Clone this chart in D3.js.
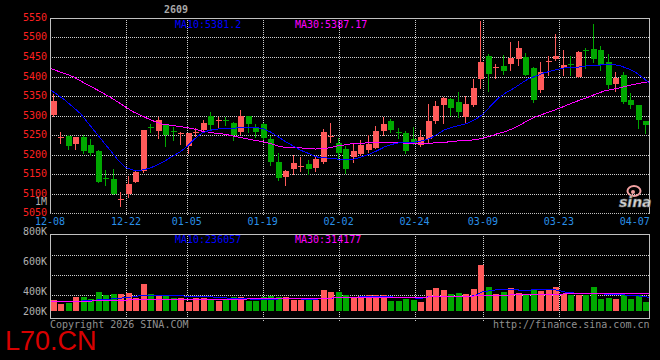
<!DOCTYPE html>
<html><head><meta charset="utf-8">
<script src="https://cdn.jsdelivr.net/npm/d3@7/dist/d3.min.js"></script>
<style>
html,body{margin:0;padding:0;background:#000;}
svg{display:block;}
text{font-family:"DejaVu Sans Mono",monospace;font-size:10px;}
</style></head><body>
<svg id="c" width="660" height="360"></svg>
<script>
const dates=["12-08","12-09","12-10","12-11","12-12","12-15","12-16","12-17","12-18","12-19","12-22","12-23","12-24","12-25","12-26","12-29","12-30","12-31","01-05","01-06","01-07","01-08","01-09","01-12","01-13","01-14","01-15","01-16","01-19","01-20","01-21","01-22","01-23","01-26","01-27","01-28","01-29","01-30","02-02","02-03","02-04","02-05","02-06","02-09","02-10","02-11","02-12","02-13","02-24","02-25","02-26","02-27","03-02","03-03","03-04","03-05","03-06","03-09","03-10","03-11","03-12","03-13","03-16","03-17","03-18","03-19","03-20","03-23","03-24","03-25","03-26","03-27","03-30","03-31","04-01","04-02","04-03","04-07","04-08","04-09"];
const openP=[5301,5244,5248,5228,5245,5224,5209,5140,5137,5085,5098,5130,5158,5270,5259,5276,5260,5252,5223,5255,5263,5299,5286,5288,5282,5257,5299,5267,5278,5239,5181,5143,5163,5169,5176,5165,5182,5245,5230,5214,5194,5202,5212,5217,5260,5286,5258,5254,5240,5224,5241,5286,5327,5342,5334,5297,5327,5394,5453,5421,5427,5432,5445,5451,5421,5365,5438,5444,5421,5432,5400,5469,5470,5468,5438,5382,5405,5340,5327,5286];
const highP=[5354,5257,5249,5245,5250,5240,5212,5160,5164,5103,5144,5159,5263,5278,5296,5277,5270,5257,5256,5267,5288,5309,5297,5297,5283,5314,5300,5278,5280,5248,5204,5160,5199,5193,5185,5195,5265,5282,5242,5222,5226,5237,5250,5273,5297,5291,5267,5260,5270,5263,5330,5337,5347,5344,5359,5350,5394,5543,5458,5432,5455,5489,5492,5461,5425,5436,5453,5509,5468,5453,5465,5474,5535,5477,5457,5411,5411,5357,5327,5286];
const lowP=[5300,5230,5213,5213,5205,5199,5130,5122,5099,5069,5092,5130,5154,5257,5243,5223,5237,5228,5203,5248,5258,5263,5271,5276,5236,5252,5257,5245,5240,5173,5135,5122,5149,5158,5149,5158,5177,5233,5192,5153,5182,5199,5207,5216,5250,5257,5243,5205,5228,5222,5229,5282,5282,5301,5297,5283,5325,5370,5363,5395,5406,5417,5430,5403,5334,5361,5404,5442,5404,5404,5400,5421,5438,5417,5370,5363,5333,5320,5267,5256];
const closeP=[5337,5246,5223,5245,5208,5205,5130,5138,5099,5087,5124,5156,5263,5268,5288,5250,5258,5254,5255,5257,5282,5276,5288,5286,5250,5299,5278,5257,5243,5182,5141,5158,5178,5171,5164,5188,5258,5247,5203,5163,5210,5224,5227,5260,5278,5263,5256,5209,5229,5246,5286,5324,5346,5320,5308,5329,5371,5438,5406,5424,5414,5448,5474,5404,5340,5412,5440,5453,5430,5430,5464,5466,5444,5430,5378,5397,5334,5327,5288,5276];
const volume=[185000,119000,142000,243000,243000,208000,332000,279000,297000,297000,314000,231000,475000,303000,279000,265000,228000,231000,157000,220000,231000,208000,172000,208000,237000,243000,172000,172000,243000,255000,243000,243000,196000,196000,196000,196000,368000,332000,332000,279000,231000,267000,279000,279000,279000,172000,172000,208000,196000,160000,368000,403000,368000,291000,314000,297000,386000,813000,421000,297000,332000,403000,314000,297000,380000,350000,368000,421000,297000,279000,279000,279000,421000,208000,225000,208000,279000,208000,279000,154000];
const ma10=[5367,5353,5339,5322,5305,5281,5257,5233,5209,5185,5166,5160,5160,5164,5172,5182,5194,5205,5220,5239,5255,5262,5265,5267,5267,5269,5269,5269,5267,5258,5246,5233,5222,5211,5203,5194,5192,5190,5188,5186,5188,5194,5200,5209,5219,5226,5230,5230,5232,5235,5241,5252,5264,5270,5275,5280,5290,5303,5324,5344,5358,5369,5382,5394,5401,5409,5414,5419,5423,5423,5425,5428,5429,5430,5431,5428,5421,5412,5398,5381.2];
const ma30=[5421,5414,5407,5400,5389,5378,5368,5357,5346,5334,5321,5309,5300,5291,5283,5277,5275,5272,5269,5265,5260,5257,5254,5252,5248,5244,5240,5236,5233,5228,5222,5218,5218,5217,5215,5214,5215,5218,5223,5225,5229,5229,5230,5230,5231,5231,5230,5229,5229,5229,5229,5230,5231,5234,5235,5236,5238,5242,5247,5254,5259,5267,5277,5288,5297,5304,5311,5318,5326,5334,5341,5348,5356,5363,5367,5371,5376,5380,5384,5387.17];
const volMa10=[155000,155000,155000,158000,170000,184000,186000,205000,208000,210000,240000,245000,273000,275000,275000,274000,272000,270000,258000,255000,254000,252000,233000,230000,215000,212000,210000,205000,206000,207000,208000,210000,210000,208000,205000,206000,214000,222000,235000,243000,243000,244000,244000,245000,246000,244000,242000,242000,226000,224000,255000,256000,250000,249000,248000,249000,272000,338000,356000,378000,380000,380000,363000,362000,380000,381000,380000,362000,326000,314000,314000,313000,298000,297000,297000,296000,274000,272000,255000,236057];
const volMa30=[160000,160000,162000,163000,170000,172000,173000,174000,176000,188000,190000,191000,195000,205000,207000,208000,208000,208000,208000,208000,208000,208000,208000,208000,208000,208000,208000,209000,209000,209000,210000,210000,211000,212000,218000,220000,222000,225000,230000,240000,243000,243000,243000,243000,243000,243000,243000,243000,243000,243000,244000,244000,244000,244000,245000,245000,265000,267000,268000,269000,270000,288000,289000,290000,290000,291000,291000,292000,302000,303000,304000,305000,306000,307000,308000,309000,310000,311000,312000,314177];
const priceTicks=[5550,5500,5450,5400,5350,5300,5250,5200,5150,5100,5050];
const dateTicks=["12-08","12-22","01-05","01-19","02-02","02-24","03-09","03-23","04-07"];
const volTickValues=[800000,600000,400000,200000];
const volTickLabels=["800K","600K","400K","200K"];
const contract="2609";

const RED="#ff5a5a", GREEN="#00a800", BLUE="#0000ff", MAG="#ff00ff";
const FRAME="#c0c0c0", GRID="#d0d0d0";
const svg=d3.select("#c");
svg.append("rect").attr("width",660).attr("height",360).attr("fill","#000");

const n=dates.length;
const xBand=d3.scaleBand().domain(d3.range(n)).range([50,650]).paddingInner(0.2).paddingOuter(0.1);
const xDate=d3.scaleLinear().domain([0,n-1]).range([50,650]);
const yP=d3.scaleLinear().domain([5050,5550]).range([213,18]);
const yV=d3.scaleLinear().domain([0,800000]).range([310.7,310.7-800000/17800]);
const volLabelY=d3.scaleLinear().domain([800000,400000]).range([234,294]);

// grids price
const g=svg.append("g").attr("shape-rendering","crispEdges");
priceTicks.filter(v=>v<5550&&v>5050).forEach(v=>{
  const y=Math.round(yP(v))+0.5;
  g.append("line").attr("x1",50).attr("x2",650).attr("y1",y).attr("y2",y)
   .attr("stroke",GRID).attr("stroke-dasharray","1,1");
});
dateTicks.forEach(d=>{
  const i=dates.indexOf(d);
  if(i<=0||i>=77) return;
  const x=Math.round(xDate(i))+0.5;
  g.append("line").attr("x1",x).attr("x2",x).attr("y1",18).attr("y2",216)
   .attr("stroke",GRID).attr("stroke-dasharray","1,1");
  g.append("line").attr("x1",x).attr("x2",x).attr("y1",234).attr("y2",321)
   .attr("stroke",GRID).attr("stroke-dasharray","1,1");
});
[255.5,275.5,295.5].forEach(y=>{
  g.append("line").attr("x1",50).attr("x2",650).attr("y1",y).attr("y2",y)
   .attr("stroke",GRID).attr("stroke-dasharray","1,1");
});

// candles
const cg=svg.append("g").attr("shape-rendering","crispEdges");
d3.range(n).forEach(i=>{
  const o=openP[i], c=closeP[i], h=highP[i], l=lowP[i];
  const col=c>o?RED:GREEN;
  const x0=Math.round(xBand(i));
  cg.append("line").attr("x1",x0+2.5).attr("x2",x0+2.5)
    .attr("y1",Math.round(yP(h))).attr("y2",Math.round(yP(l))+1).attr("stroke",col);
  const yt=Math.round(yP(Math.max(o,c)));
  const yb=Math.round(yP(Math.min(o,c)));
  cg.append("rect").attr("x",x0).attr("y",yt).attr("width",Math.round(xBand.bandwidth()))
    .attr("height",Math.max(1,yb-yt)).attr("fill",col);
});

// MA lines price
const lineP=d3.line().x((d,i)=>xDate(i)).y(d=>yP(d));
svg.append("path").attr("d",lineP(ma30)).attr("fill","none").attr("stroke",MAG).attr("stroke-width",1).attr("shape-rendering","crispEdges");
svg.append("path").attr("d",lineP(ma10)).attr("fill","none").attr("stroke",BLUE).attr("stroke-width",1).attr("shape-rendering","crispEdges");

// volume bars
const vg=svg.append("g").attr("shape-rendering","crispEdges");
d3.range(n).forEach(i=>{
  const col=closeP[i]>openP[i]?RED:GREEN;
  const x0=Math.round(xBand(i));
  const yt=Math.round(yV(volume[i]));
  vg.append("rect").attr("x",x0).attr("y",yt).attr("width",Math.round(xBand.bandwidth()))
    .attr("height",Math.round(yV(0))-yt).attr("fill",col);
});
const lineV=d3.line().x((d,i)=>xDate(i)).y(d=>yV(d));
svg.append("path").attr("d",lineV(volMa10)).attr("fill","none").attr("stroke",BLUE).attr("shape-rendering","crispEdges");
svg.append("path").attr("d",lineV(volMa30)).attr("fill","none").attr("stroke",MAG).attr("shape-rendering","crispEdges");

// frames
const fg=svg.append("g").attr("shape-rendering","crispEdges").attr("fill","none");
fg.append("line").attr("x1",50).attr("x2",650).attr("y1",18.5).attr("y2",18.5).attr("stroke",FRAME);
fg.append("line").attr("x1",50.5).attr("x2",50.5).attr("y1",18).attr("y2",214).attr("stroke",FRAME);
fg.append("line").attr("x1",649.5).attr("x2",649.5).attr("y1",18).attr("y2",214).attr("stroke",FRAME);
fg.append("line").attr("x1",50).attr("x2",650).attr("y1",213.5).attr("y2",213.5).attr("stroke",FRAME).attr("stroke-dasharray","1,1");
fg.append("rect").attr("x",50.5).attr("y",234.5).attr("width",599).attr("height",84).attr("stroke",FRAME);

// axis labels
const tg=svg.append("g");
priceTicks.forEach(v=>{
  tg.append("text").attr("x",47).attr("y",Math.round(yP(v))+2.5).attr("text-anchor","end")
    .attr("fill","#ff2020").style("font-size","10px").text(v);
});
tg.append("text").attr("x",47).attr("y",205).attr("text-anchor","end").attr("fill","#b0b0b0").style("font-size","10px").text("1M");
dateTicks.forEach(d=>{
  const i=dates.indexOf(d);
  tg.append("text").attr("x",xDate(i)).attr("y",225).attr("text-anchor","middle")
    .attr("fill","#2a90e8").style("font-size","10px").text(d);
});
volTickValues.forEach((v,k)=>{
  tg.append("text").attr("x",47).attr("y",Math.min(volLabelY(v),314)+0.5).attr("text-anchor","end")
    .attr("fill","#b0b0b0").style("font-size","10px").text(volTickLabels[k]);
});

// legends
tg.append("text").attr("x",176).attr("y",13).attr("text-anchor","middle").attr("fill","#a8a8a8").style("font-weight","bold").text(contract);
tg.append("text").attr("x",175).attr("y",27.5).attr("fill",BLUE).text("MA10:"+ma10[n-1]);
tg.append("text").attr("x",295).attr("y",27.5).attr("fill",MAG).text("MA30:"+ma30[n-1]);
tg.append("text").attr("x",175).attr("y",242.5).attr("fill",BLUE).text("MA10:"+volMa10[n-1]);
tg.append("text").attr("x",295).attr("y",242.5).attr("fill",MAG).text("MA30:"+volMa30[n-1]);

// footer
tg.append("text").attr("x",50).attr("y",327.5).attr("fill","#909090").text("Copyright 2026 SINA.COM");
tg.append("text").attr("x",649.5).attr("y",327.5).attr("text-anchor","end").attr("fill","#909090").text("http://finance.sina.com.cn");
tg.append("text").attr("x",5).attr("y",350).attr("fill","#d80000")
  .style("font-family","'Liberation Sans',Arial,sans-serif").style("font-size","27px").text("L70.CN");

// sina logo
const lg=svg.append("g");
lg.append("ellipse").attr("cx",634).attr("cy",191).attr("rx",6.5).attr("ry",5).attr("fill","none").attr("stroke","#f0a0a0").attr("stroke-width",2);
lg.append("circle").attr("cx",633).attr("cy",192).attr("r",2).attr("fill","#f0a0a0");
lg.append("text").attr("x",619).attr("y",207).attr("fill","#d8d8d8").attr("stroke","#707070").attr("stroke-width",0.6)
  .style("font-family","'DejaVu Sans',sans-serif").style("font-size","14px").style("font-style","italic").style("font-weight","bold").text("sina");
</script>
</body></html>
